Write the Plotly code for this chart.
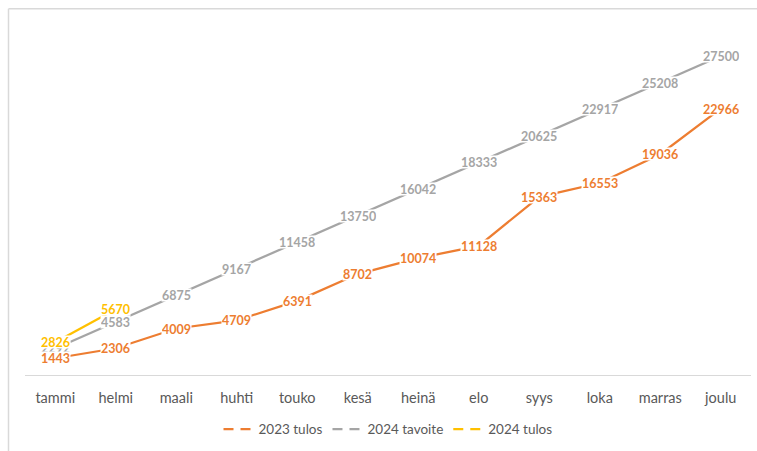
import plotly.graph_objects as go

months = ["tammi", "helmi", "maali", "huhti", "touko", "kesä", "heinä", "elo", "syys", "loka", "marras", "joulu"]
tulos_2023 = [1443, 2306, 4009, 4709, 6391, 8702, 10074, 11128, 15363, 16553, 19036, 22966]
tavoite_2024 = [2292, 4583, 6875, 9167, 11458, 13750, 16042, 18333, 20625, 22917, 25208, 27500]
tulos_2024 = [2826, 5670]

series = [
    ("2023 tulos", tulos_2023, "#ED7D31"),
    ("2024 tavoite", tavoite_2024, "#A5A5A5"),
    ("2024 tulos", tulos_2024, "#FFC000"),
]

FONT = "Lato, Carlito, Calibri, sans-serif"

fig = go.Figure()
for name, vals, color in series:
    fig.add_trace(go.Scatter(
        x=months[:len(vals)], y=vals, mode="lines", name=name,
        line=dict(color=color, width=2.25), showlegend=False, hoverinfo="skip",
    ))
# legend-only entries with dashed symbol like the reference
for name, vals, color in series:
    fig.add_trace(go.Scatter(
        x=[None], y=[None], mode="lines", name=name,
        line=dict(color=color, width=2.25, dash="10px,7px"), showlegend=True,
    ))

# data labels (white background), drawn gray first, then orange, then yellow
label_order = [series[1], series[0], series[2]]
for name, vals, color in label_order:
    for m, v in zip(months, vals):
        fig.add_annotation(
            x=m, y=v, text=f"<b>{v}</b>", showarrow=False,
            font=dict(family=FONT, size=12.5, color=color),
            bgcolor="white", borderpad=0, height=12, valign="middle",
            xanchor="center", yanchor="middle",
        )

# chart border (left and top visible); plot area is x 25..751, y 27..380 px
border = dict(color="#D9D9D9", width=1.5)
bx = (8.5 - 25) / 726
by = (380 - 8.5) / 353
fig.add_shape(type="line", xref="paper", yref="paper",
              x0=bx, x1=bx, y0=-0.3, y1=by, line=border, layer="below")
fig.add_shape(type="line", xref="paper", yref="paper",
              x0=bx, x1=1.05, y0=by, y1=by, line=border, layer="below")

fig.update_layout(
    width=757, height=451,
    margin=dict(l=25, r=6, t=27, b=71),
    paper_bgcolor="white", plot_bgcolor="white",
    font=dict(family=FONT, size=14, color="#595959"),
    xaxis=dict(
        type="category", showgrid=False, zeroline=False,
        showline=True, linecolor="#D9D9D9", linewidth=1.2,
        ticks="", ticklabelstandoff=9, tickfont=dict(size=14.5, color="#595959"),
        range=[-0.5, 11.5],
    ),
    yaxis=dict(range=[0, 30000], visible=False, showgrid=False, zeroline=False),
    legend=dict(
        orientation="h", x=0.5, xanchor="center", y=-0.156, yanchor="middle",
        font=dict(size=13.5, color="#595959"), itemwidth=30, tracegroupgap=0,
    ),
    showlegend=True,
    hovermode=False,
)

fig.write_html(
    "out.html",
    config={"displayModeBar": False},
    post_script="document.body.style.margin='0';document.body.style.overflow='hidden';",
)
